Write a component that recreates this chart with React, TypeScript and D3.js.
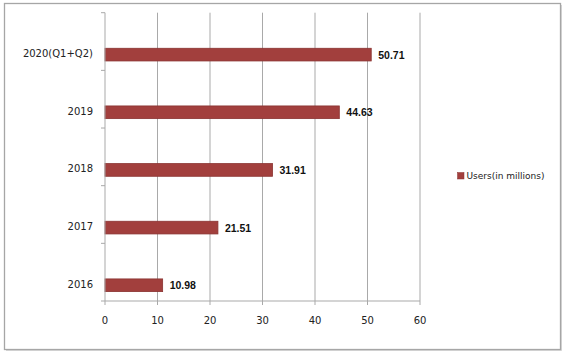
import React from "react";
import * as d3 from "d3";

const categories = ["2020(Q1+Q2)", "2019", "2018", "2017", "2016"];
const users = [50.71, 44.63, 31.91, 21.51, 10.98];
const xTicks = [0, 10, 20, 30, 40, 50, 60];
const seriesName = "Users(in millions)";

const W = 566;
const H = 355;
const left = 105;
const right = 420;
const top = 12.7;
const bottom = 301;

export default function App() {
  const x = d3.scaleLinear().domain([0, 60]).range([left, right]);
  const y = d3.scaleBand().domain(categories).range([top, bottom]).paddingInner(0).paddingOuter(0);
  const bw = y.bandwidth();
  const barTop = (c: string) => (y(c) as number) + bw * 0.617;
  const barH = bw * 0.22;
  const gridColor = "#a9a9a9";
  const font = "'DejaVu Sans', Verdana, sans-serif";

  return (
    <svg
      width={W}
      height={H}
      style={{ position: "fixed", left: 0, top: 0, background: "#fff" }}
    >
      <rect x={0} y={0} width={W} height={H} fill="#fff" />
      {/* outer border */}
      <rect x={4.5} y={3.5} width={556} height={346} fill="none" stroke="#a6a6a6" strokeWidth={1.3} />
      <line x1={561.5} y1={5} x2={561.5} y2={350.5} stroke="#d0d0d0" strokeWidth={1} />
      <line x1={6} y1={350.5} x2={561.5} y2={350.5} stroke="#d0d0d0" strokeWidth={1} />

      {/* gridlines */}
      {xTicks.slice(1).map((t) => (
        <line key={"g" + t} x1={x(t)} x2={x(t)} y1={top} y2={bottom} stroke={gridColor} strokeWidth={1} />
      ))}

      {/* bars */}
      {categories.map((c, i) => (
        <rect
          key={c}
          x={x(0)}
          y={barTop(c)}
          width={x(users[i]) - x(0)}
          height={barH}
          fill="#a23f3d"
          stroke="#8a3331"
          strokeWidth={0.8}
        />
      ))}

      {/* y axis */}
      <line x1={x(0)} x2={x(0)} y1={top} y2={bottom} stroke={gridColor} strokeWidth={1} />
      {[...categories.map((c) => y(c) as number), bottom].map((v, i) => (
        <line key={"yt" + i} x1={x(0) - 4} x2={x(0)} y1={v} y2={v} stroke={gridColor} strokeWidth={1} />
      ))}
      {/* x axis */}
      <line x1={x(0)} x2={x(60)} y1={bottom} y2={bottom} stroke={gridColor} strokeWidth={1} />
      {xTicks.map((t) => (
        <line key={"xt" + t} x1={x(t)} x2={x(t)} y1={bottom} y2={bottom + 4} stroke={gridColor} strokeWidth={1} />
      ))}

      {/* x tick labels */}
      {xTicks.map((t) => (
        <text
          key={"xl" + t}
          x={x(t)}
          y={320}
          textAnchor="middle"
          dominantBaseline="central"
          fontFamily={font}
          fontSize={10}
          fill="#222"
        >
          {t}
        </text>
      ))}

      {/* category labels */}
      {categories.map((c) => (
        <text
          key={"cl" + c}
          x={93}
          y={barTop(c) + barH / 2 - 1}
          textAnchor="end"
          dominantBaseline="central"
          fontFamily={font}
          fontSize={10}
          fill="#222"
        >
          {c}
        </text>
      ))}

      {/* value labels */}
      {categories.map((c, i) => (
        <text
          key={"vl" + c}
          x={x(users[i]) + 7}
          y={barTop(c) + barH / 2}
          dominantBaseline="central"
          fontFamily="'Liberation Sans', Arial, sans-serif"
          fontWeight="bold"
          fontSize={10.5}
          fill="#111"
        >
          {users[i].toFixed(2)}
        </text>
      ))}

      {/* legend */}
      <rect x={457.5} y={172.5} width={6.5} height={6.5} fill="#a23f3d" stroke="#8a3331" strokeWidth={0.5} />
      <text
        x={466.5}
        y={176}
        dominantBaseline="central"
        fontFamily={font}
        fontSize={9}
        fill="#222"
      >
        {seriesName}
      </text>
    </svg>
  );
}
